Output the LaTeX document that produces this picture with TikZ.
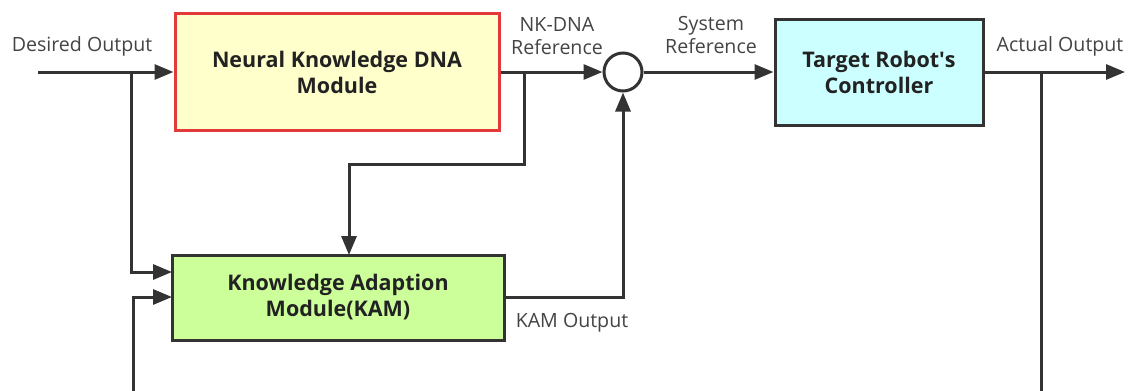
\documentclass[tikz,border=0pt]{standalone}
\usepackage{fontspec}
\setmainfont{Open Sans}
\usetikzlibrary{arrows.meta}
\definecolor{ln}{HTML}{333333}
\definecolor{txt}{HTML}{444444}
\definecolor{btxt}{HTML}{222222}
\definecolor{nkfill}{HTML}{FFFFCC}
\definecolor{nkred}{HTML}{E23A3A}
\definecolor{kamfill}{HTML}{CCFF99}
\definecolor{tgtfill}{HTML}{CCFFFF}
\begin{document}
\begin{tikzpicture}[x=1pt,y=-1pt,
  blk/.style={draw=ln, line width=3pt, rectangle, align=center, inner sep=0pt,
    font=\fontsize{21.5}{26}\selectfont\bfseries, text=btxt},
  lbl/.style={align=center, inner sep=0pt, text=txt, font=\fontsize{19.6}{23.5}\selectfont},
  arr/.style={draw=ln, line width=3pt, -{Triangle[length=19pt,width=15pt]}},
  ln/.style={draw=ln, line width=3pt}]
\useasboundingbox (0,0) rectangle (1133,391);
\fill[white] (0,0) rectangle (1133,391);
% blocks
\node[blk, fill=nkfill, draw=nkred, minimum width=324pt, minimum height=117pt] (nk) at (337,72) {Neural Knowledge DNA\\Module};
\node[blk, fill=kamfill, minimum width=332pt, minimum height=85pt] (kam) at (338,297.5) {Knowledge Adaption\\Module(KAM)};
\node[blk, fill=tgtfill, minimum width=208pt, minimum height=106pt] (tgt) at (879,72) {Target Robot\textquotesingle s\\Controller};
\node[draw=ln, line width=3pt, circle, fill=white, minimum size=38pt, inner sep=0pt] (sum) at (623,72) {};
% labels
\node[lbl] (l1) at (82,46) {Desired Output};
\node[lbl] (l2) at (557,36) {NK-DNA\\Reference};
\node[lbl] (l3) at (711,35) {System\\Reference};
\node[lbl] (l4) at (1060,46) {Actual Output};
\node[lbl] (l5) at (572,323) {KAM Output};
% coordinates
\coordinate (in) at (38,72);
\coordinate (b1) at (131,72);
\coordinate (kin1) at (172,272);
\coordinate (bot1) at (133,391);
\coordinate (kin2) at (172,297);
\coordinate (b2) at (524,72);
\coordinate (c2) at (524,164);
\coordinate (kt) at (349,255);
\coordinate (out) at (1125,72);
\coordinate (b3) at (1041,72);
\coordinate (bot2) at (1041,391);
% connectors
\draw[arr] (in) -- (nk.west);
\draw[arr] (b1) |- (kin1);
\draw[arr] (bot1) |- (kin2);
\draw[arr] (nk.east) -- (sum.west);
\draw[arr] (b2) -- (c2) -| (kt);
\draw[arr] (sum.east) -- (tgt.west);
\draw[arr] (tgt.east) -- (out);
\draw[ln] (b3) -- (bot2);
\draw[arr] (kam.east) -| (sum.south);
\end{tikzpicture}
\end{document}
